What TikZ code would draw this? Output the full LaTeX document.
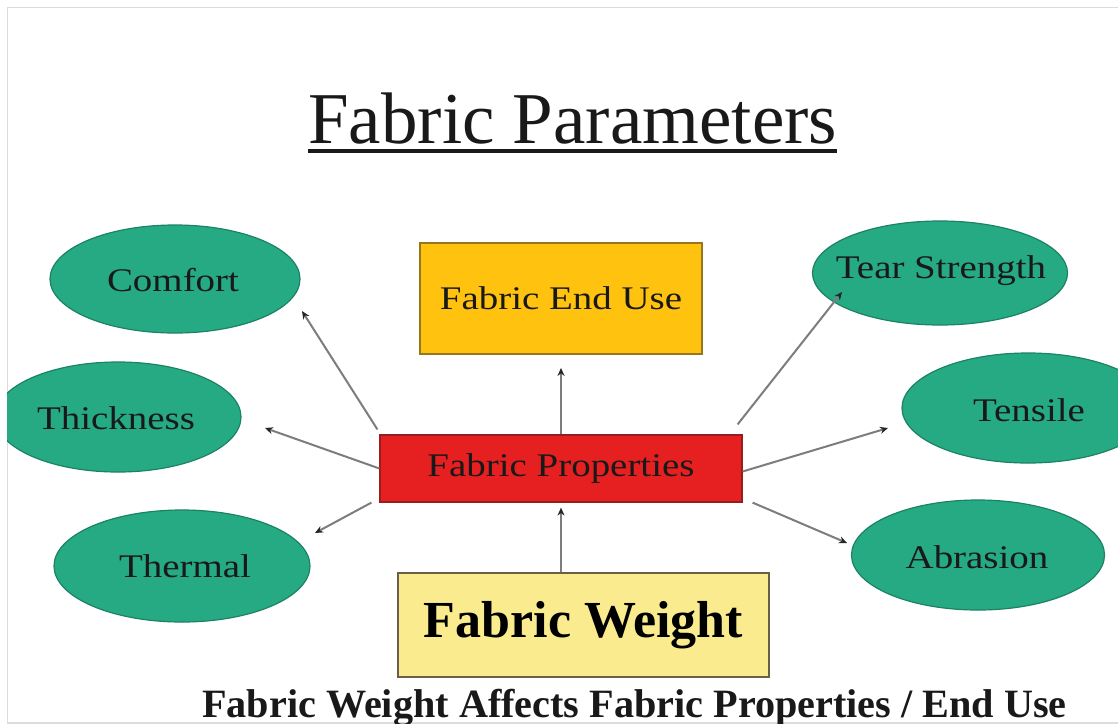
\documentclass[tikz,border=0pt]{standalone}
\usepackage{fontspec}
\setmainfont{Liberation Serif}
\newfontfamily\widefont[FakeStretch=1.18]{Liberation Serif}
\usetikzlibrary{shapes.geometric,arrows.meta}
\definecolor{teal1}{RGB}{38,170,132}
\definecolor{tealdark}{RGB}{28,130,100}
\definecolor{gold1}{RGB}{255,194,14}
\definecolor{goldborder}{RGB}{150,118,30}
\definecolor{red1}{RGB}{230,32,32}
\definecolor{redborder}{RGB}{150,30,30}
\definecolor{paleyellow}{RGB}{250,236,142}
\definecolor{weightborder}{RGB}{105,95,70}
\definecolor{arrgray}{RGB}{125,125,125}
\definecolor{framegray}{RGB}{220,220,220}
\tikzset{
  oval/.style={ellipse, fill=teal1, draw=tealdark, line width=1.2pt, inner sep=0pt},
  ovaltext/.style={font=\widefont\fontsize{33}{38}\selectfont, text=black!90, inner sep=0pt},
  boxtext/.style={font=\widefont\fontsize{33}{38}\selectfont, text=black!90, inner sep=0pt},
  arr/.style={draw=arrgray, line width=2pt, -{Stealth[length=8pt,width=7pt,color=black!85]}}
}
\begin{document}
\begin{tikzpicture}[x=1pt,y=-1pt]
\useasboundingbox (0,0) rectangle (1118,726);
\fill[white] (0,0) rectangle (1118,726);
\begin{scope}
\clip (7,7) rectangle (1118,723);
% frame
\draw[framegray, line width=1.5pt] (7,7) rectangle (1130,723);
% title
\node[anchor=base west, inner sep=0pt, font=\fontsize{73}{80}\selectfont, text=black!90] (title) at (308,143) {Fabric Parameters};
\draw[black!90, line width=3.5pt] (title.base west |- 0,151) -- (title.base east |- 0,151);
% ellipses
\node[oval, minimum width=250pt, minimum height=108pt] (comfort) at (175,279) {};
\node[ovaltext] (comfortT) at (173,280) {Comfort};
\node[oval, minimum width=246pt, minimum height=110pt] (thick) at (118,417) {};
\node[ovaltext] (thickT) at (116,418) {Thickness};
\node[oval, minimum width=256pt, minimum height=112pt] (therm) at (182,566) {};
\node[ovaltext] (thermT) at (185,566) {Thermal};
\node[oval, minimum width=255pt, minimum height=104pt] (tear) at (940,273) {};
\node[ovaltext] (tearT) at (941,271) {Tear Strength};
\node[oval, minimum width=252pt, minimum height=110pt] (tens) at (1028,408) {};
\node[ovaltext] (tensT) at (1029,410) {Tensile};
\node[oval, minimum width=253pt, minimum height=110pt] (abr) at (978,555) {};
\node[ovaltext] (abrT) at (977,557) {Abrasion};
% boxes
\node[boxtext, fill=gold1, draw=goldborder, line width=1.8pt, minimum width=282pt, minimum height=111pt] (enduse) at (561,298.5) {Fabric End Use};
\node[boxtext, fill=red1, draw=redborder, line width=1.2pt, minimum width=362pt, minimum height=67pt] (props) at (561,468.5) {Fabric Properties};
\node[fill=paleyellow, draw=weightborder, line width=2.6pt, minimum width=371pt, minimum height=104pt, inner sep=0pt,
  font=\bfseries\fontsize{52}{58}\selectfont, text=black] (weight) at (583.5,625) {Fabric Weight};
% bottom caption
\node[anchor=base west, inner sep=0pt, font=\bfseries\fontsize{40.2}{46}\selectfont, text=black!90] (caption) at (202,717) {Fabric Weight Affects Fabric Properties / End Use};
% arrow tips
\coordinate (tComfort) at (302,311);
\coordinate (tThick) at (265,428);
\coordinate (tTherm) at (315,533);
\coordinate (tTear) at (842,292);
\coordinate (tTens) at (888,428);
\coordinate (tAbr) at (847,543);
% connectors
\draw[arr] (props.north) -- ([yshift=-13pt]enduse.south);
\draw[arr] (props.south |- weight.north) -- ([yshift=-5pt]props.south);
\draw[arr] ([shift={(-2pt,5pt)}]props.north west) -- (tComfort);
\draw[arr] (props.west) -- (tThick);
\draw[arr] ([xshift=-8pt]props.south west) -- (tTherm);
\draw[arr] ([shift={(-5pt,10pt)}]props.north east) -- (tTear);
\draw[arr] ([yshift=-3pt]props.east) -- (tTens);
\draw[arr] ([xshift=10pt]props.south east) -- (tAbr);
\end{scope}
\end{tikzpicture}
\end{document}
